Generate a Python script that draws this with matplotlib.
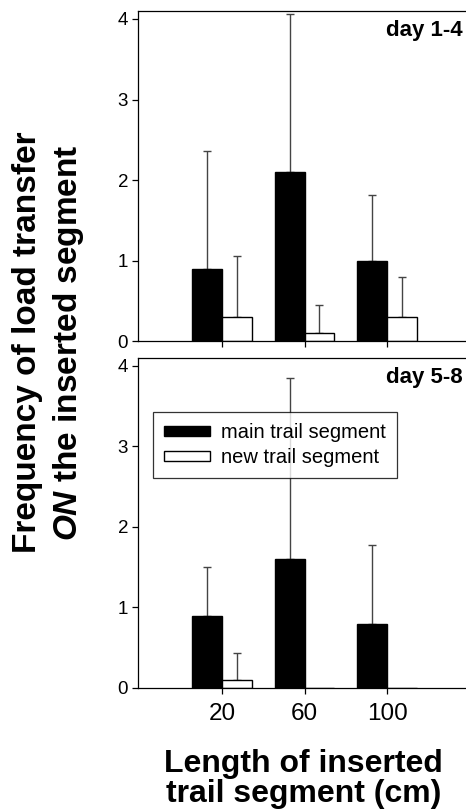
import numpy as np
import matplotlib.pyplot as plt

plt.rcParams['font.family'] = ['Liberation Sans', 'DejaVu Sans']
plt.rcParams['mathtext.fontset'] = 'custom'
plt.rcParams['mathtext.rm'] = 'Liberation Sans'
plt.rcParams['mathtext.bfit'] = 'Liberation Sans:italic:bold'

lengths = ['20', '60', '100']
panel_labels = ['day 1-4', 'day 5-8']

# means and upper error (top of error bar)
main_mean = [[0.9, 2.1, 1.0], [0.9, 1.6, 0.8]]
main_top = [[2.36, 4.06, 1.82], [1.5, 3.85, 1.77]]
new_mean = [[0.3, 0.1, 0.3], [0.1, 0.0, 0.0]]
new_top = [[1.06, 0.45, 0.8], [0.43, 0.0, 0.0]]

fig = plt.figure(figsize=(4.66, 8.11), dpi=100)
ax_top = fig.add_axes([0.296, 0.5795, 0.704, 0.407])
ax_bot = fig.add_axes([0.296, 0.1517, 0.704, 0.407])

x = np.arange(len(lengths))
w = 0.36

for i, ax in enumerate([ax_top, ax_bot]):
    m = np.array(main_mean[i])
    n = np.array(new_mean[i])
    m_err = np.array(main_top[i]) - m
    n_err = np.array(new_top[i]) - n
    ax.bar(x - w / 2, m, w, color='black', edgecolor='black', lw=1,
           label='main trail segment', zorder=2)
    ax.bar(x + w / 2, n, w, color='white', edgecolor='black', lw=1,
           label='new trail segment', zorder=2)
    # upper error bars only
    ax.errorbar(x - w / 2, m, yerr=[np.zeros_like(m_err), m_err], fmt='none',
                ecolor='#444444', elinewidth=1, capsize=2.8, capthick=1, zorder=1)
    keep = n_err > 0
    ax.errorbar((x + w / 2)[keep], n[keep], yerr=[np.zeros(keep.sum()), n_err[keep]],
                fmt='none', ecolor='#444444', elinewidth=1, capsize=2.8, capthick=1,
                zorder=1)

    ax.set_xlim(-1.02, 2.956)
    ax.set_ylim(0, 4.1)
    ax.set_yticks([0, 1, 2, 3, 4])
    ax.set_xticks(x)
    ax.spines['right'].set_visible(False)
    for s in ['left', 'bottom', 'top']:
        ax.spines[s].set_linewidth(0.9)
    ax.tick_params(direction='out', length=4, width=0.9)
    ax.tick_params(axis='y', labelsize=13.5, pad=3)
    ax.text(0.99, 0.94, panel_labels[i], transform=ax.transAxes, ha='right',
            va='center', fontsize=16, fontweight='bold')

ax_top.set_xticklabels([])
ax_bot.set_xticklabels(lengths)
ax_bot.tick_params(axis='x', labelsize=17.5, pad=7)

leg = ax_bot.legend(loc='upper left', bbox_to_anchor=(0.046, 0.836), fontsize=14.5,
                    handlelength=2.3, handleheight=0.4, handletextpad=0.55,
                    frameon=True, fancybox=False, edgecolor='black',
                    borderpad=0.55, labelspacing=0.3, borderaxespad=0)
leg.get_frame().set_linewidth(0.9)

# axis titles
fig.text(0.058, 0.578, 'Frequency of load transfer', rotation=90, ha='center',
         va='center', fontsize=24, fontweight='bold')
fig.text(0.146, 0.578, r'$\mathbfit{ON}$ the inserted segment', rotation=90,
         ha='center', va='center', fontsize=24, fontweight='bold')
fig.text(0.651, 0.040, 'Length of inserted\ntrail segment (cm)', ha='center',
         va='center', fontsize=23, fontweight='bold', linespacing=1.0)

fig.savefig('out.png', dpi=100)
